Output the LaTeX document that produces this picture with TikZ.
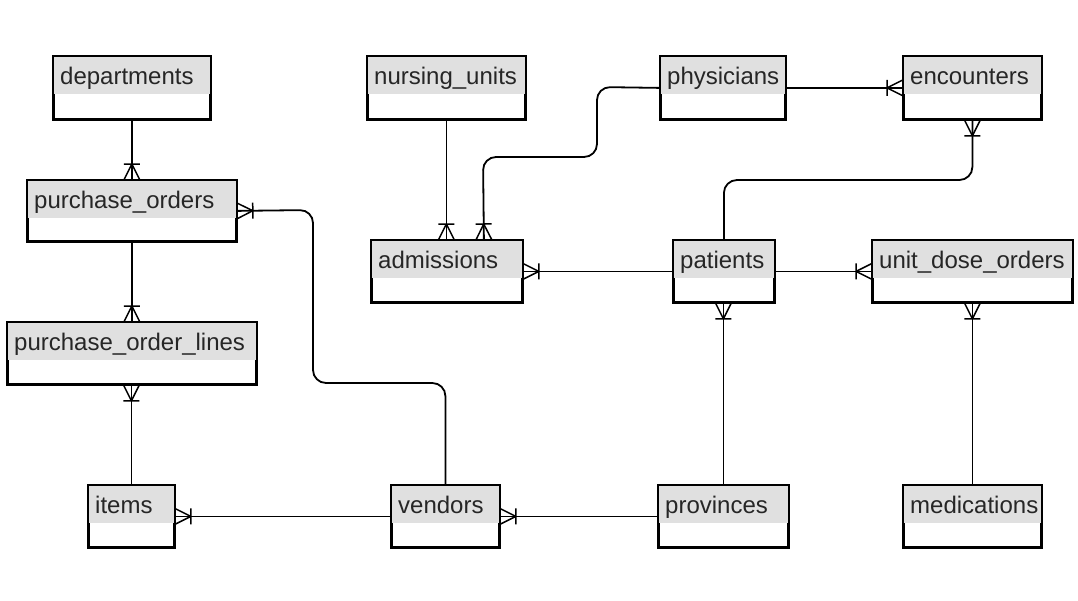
\documentclass[tikz,border=0pt]{standalone}
\usepackage{fontspec}
\setmainfont{Liberation Sans}
\usetikzlibrary{decorations.markings}
\definecolor{hdrgray}{HTML}{E0E0E0}
\definecolor{txtgray}{HTML}{262626}
\tikzset{
  entbox/.style={draw=black, line width=1.8pt, fill=white, rectangle, inner sep=0pt},
  hdrfill/.style={fill=hdrgray},
  entline/.style={draw=black, line width=1.8pt},
  entlabel/.style={inner sep=0pt, text=txtgray, font=\fontsize{24}{27}\selectfont},
  rel/.style={draw=black, line width=1.8pt},
  crowline/.style={draw=black, line width=1.5pt},
  manyend/.style={postaction={decorate}, decoration={markings,
     mark=at position 1 with {\draw[crowline] (-16,0) -- (0,8) (-16,0) -- (0,-8) (-16,-8) -- (-16,8);}}},
}
\newcommand\erent[6]{%
  \node[entbox, minimum width=#4pt, minimum height=#5pt, anchor=north west] (#1) at (#2,#3) {};
  \fill[hdrfill] ([shift={(1,1)}]#1.north west) rectangle ([shift={(-1,38)}]#1.north east);
  \node[entlabel, anchor=base west] (#1-label) at ([shift={(7,28)}]#1.north west) {#6};
  \draw[entline] (#1.north west) rectangle (#1.south east);
}
\begin{document}
\begin{tikzpicture}[x=1pt,y=-1pt]
\useasboundingbox[fill=white] (0,0) rectangle (1078,600);
\erent{departments}{53}{56}{156}{62}{departments}
\erent{nursing_units}{367}{56}{157}{62}{nursing\_units}
\erent{physicians}{660}{56}{124}{62}{physicians}
\erent{encounters}{903}{56}{137}{62}{encounters}
\erent{purchase_orders}{27}{180}{208}{60}{purchase\_orders}
\erent{admissions}{371}{240}{150}{61}{admissions}
\erent{patients}{673}{240}{100}{61}{patients}
\erent{unit_dose_orders}{872}{240}{199}{61}{unit\_dose\_orders}
\erent{purchase_order_lines}{7}{322}{248}{61}{purchase\_order\_lines}
\erent{items}{88}{485}{85}{61}{items}
\erent{vendors}{391}{485}{107}{61}{vendors}
\erent{provinces}{658}{485}{129}{61}{provinces}
\erent{medications}{903}{485}{137}{61}{medications}

\draw[rel, manyend] (departments.south) -- (purchase_orders.north);
\draw[rel, manyend] (purchase_orders.south) -- (purchase_order_lines.north);
\draw[rel, manyend] (items.north) -- (items.north |- purchase_order_lines.south);
\draw[rel, manyend, rounded corners=13pt] (vendors.north) -- (vendors.north |- 0,383) -- (313,383) -- (313,210) -- (purchase_orders.east);
\draw[rel, manyend] (vendors.west) -- (items.east);
\draw[rel, manyend] (provinces.west) -- (vendors.east);
\draw[rel, manyend] (provinces.north) -- (provinces.north |- patients.south);
\draw[rel, manyend] (patients.west) -- (admissions.east);
\draw[rel, manyend] (patients.east) -- (unit_dose_orders.west);
\draw[rel, manyend] (medications.north) -- (medications.north |- unit_dose_orders.south);
\draw[rel, manyend, rounded corners=13pt] (patients.north) -- (patients.north |- 0,180) -- (encounters.south |- 0,180) -- (encounters.south);
\draw[rel, manyend] (physicians.east) -- (encounters.west);
\draw[rel, manyend, rounded corners=13pt] (physicians.west) -- (597,87) -- (597,157) -- (483,157) -- ([xshift=37pt]admissions.north);
\draw[rel, manyend] (nursing_units.south) -- (nursing_units.south |- admissions.north);
\end{tikzpicture}
\end{document}
